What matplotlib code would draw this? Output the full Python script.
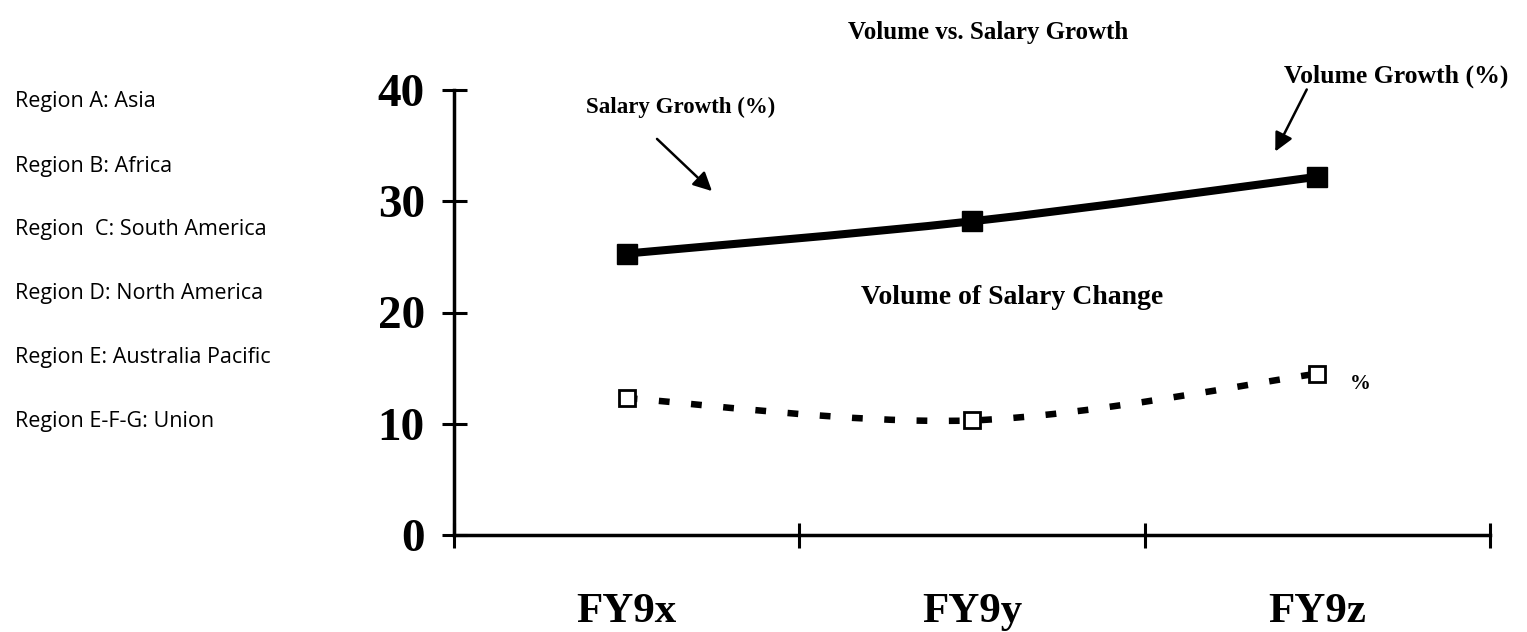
import numpy as np
import matplotlib
matplotlib.use("Agg")
import matplotlib.pyplot as plt
from matplotlib.path import Path
from matplotlib.patches import PathPatch, FancyArrowPatch

# data
years = ["FY9x", "FY9y", "FY9z"]
salary_growth = [25.3, 28.2, 32.2]      # solid line
volume_change = [12.3, 10.3, 14.5]      # dotted line
y_ticks = [0, 10, 20, 30, 40]
regions = ["Region A: Asia", "Region B: Africa", "Region  C: South America",
           "Region D: North America", "Region E: Australia Pacific",
           "Region E-F-G: Union"]

serif = "Liberation Serif"


def smooth_path(xs, ys):
    # excel-like smoothed line: cubic bezier through the points
    pts = np.column_stack([xs, ys]).astype(float)
    verts = [pts[0]]
    codes = [Path.MOVETO]
    n = len(pts)
    for i in range(n - 1):
        p0 = pts[max(i - 1, 0)]
        p1 = pts[i]
        p2 = pts[i + 1]
        p3 = pts[min(i + 2, n - 1)]
        c1 = p1 + (p2 - p0) / 6.0
        c2 = p2 - (p3 - p1) / 6.0
        verts += [c1, c2, p2]
        codes += [Path.CURVE4] * 3
    return Path(verts, codes)


fig = plt.figure(figsize=(15.27, 6.32), dpi=100)
ax = fig.add_axes([454 / 1527, 97 / 632, 1036 / 1527, 445 / 632])

x = np.arange(len(years))

# solid line
ax.add_patch(PathPatch(smooth_path(x, salary_growth), fill=False, lw=5.8,
                       edgecolor="black", capstyle="butt", joinstyle="round"))
ax.plot(x, salary_growth, linestyle="none", marker="s", markersize=14,
        color="black", zorder=4)

# dotted line
ax.add_patch(PathPatch(smooth_path(x, volume_change), fill=False, lw=4.7,
                       edgecolor="black", linestyle=(0, (1.65, 3.3)),
                       capstyle="butt"))
ax.plot(x, volume_change, linestyle="none", marker="s", markersize=12,
        markerfacecolor="white", markeredgecolor="black", markeredgewidth=2,
        zorder=3)

ax.set_xlim(-0.5, 2.5)
ax.set_ylim(0, 40)
ax.set_yticks(y_ticks)
ax.set_yticklabels([str(v) for v in y_ticks], fontfamily=serif,
                   fontweight="bold", fontsize=34)
ax.set_xticks([-0.5, 0.5, 1.5, 2.5])
ax.set_xticklabels([])
ax.tick_params(axis="both", direction="inout", length=18, width=2.2, color="black")
ax.tick_params(axis="y", pad=12)
for s in ["top", "right"]:
    ax.spines[s].set_visible(False)
for s in ["left", "bottom"]:
    ax.spines[s].set_linewidth(2.5)
ax.spines["left"].set_bounds(0, 40)

# category labels under the axis
for i, lab in enumerate(years):
    ax.text(i, -6.9, lab, ha="center", va="center", fontfamily=serif,
            fontweight="bold", fontsize=31)

def fx(px):
    return px / 1527

def fy(py):
    return 1 - py / 632

fig.text(fx(988), fy(32), "Volume vs. Salary Growth", ha="center", va="center",
         fontfamily=serif, fontweight="bold", fontsize=18)
fig.text(fx(681), fy(107), "Salary Growth (%)", ha="center", va="center",
         fontfamily=serif, fontweight="bold", fontsize=16.5)
fig.text(fx(1396), fy(76), "Volume Growth (%)", ha="center", va="center",
         fontfamily=serif, fontweight="bold", fontsize=18.5)
fig.text(fx(1012), fy(297), "Volume of Salary Change", ha="center", va="center",
         fontfamily=serif, fontweight="bold", fontsize=20)
fig.text(fx(1360), fy(384), "%", ha="center", va="center",
         fontfamily=serif, fontweight="bold", fontsize=15)

arrow = dict(arrowstyle="-|>", color="black", lw=1.8, mutation_scale=28)
fig.add_artist(FancyArrowPatch((fx(655), fy(137)), (fx(714), fy(193)),
               transform=fig.transFigure, **arrow))
fig.add_artist(FancyArrowPatch((fx(1308), fy(87)), (fx(1274), fy(154)),
               transform=fig.transFigure, **arrow))

for i, r in enumerate(regions):
    fig.text(fx(15), fy(102 + 64 * i), r, ha="left", va="center",
             fontfamily="Open Sans", fontsize=15.5)

fig.savefig("out.png", dpi=100)
